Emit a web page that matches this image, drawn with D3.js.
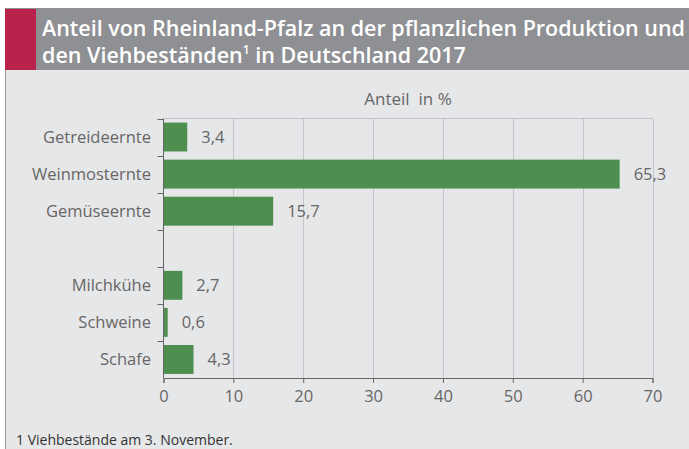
<!DOCTYPE html>
<meta charset="utf-8">
<head>
    <title>Anteil Rheinland-Pfalz</title>
    <script src="https://cdn.jsdelivr.net/npm/d3@7"></script>
</head>

<style>
    body { margin: 0; background: #fff; }
    text { font-family: "Open Sans", "Noto Sans", sans-serif; }
</style>

<svg></svg>

<script>
    // chart data (empty row = gap between crops and livestock)
    var categories = ["Getreideernte", "Weinmosternte", "Gemüseernte", "", "Milchkühe", "Schweine", "Schafe"];
    var values = [3.4, 65.3, 15.7, null, 2.7, 0.6, 4.3];
    var valueLabels = ["3,4", "65,3", "15,7", "", "2,7", "0,6", "4,3"];
    var xTicks = [0, 10, 20, 30, 40, 50, 60, 70];
    var titleLines = ["Anteil von Rheinland-Pfalz an der pflanzlichen Produktion und", "den Viehbeständen"];
    var axisTitle = "Anteil  in %";
    var footnote = "1 Viehbestände am 3. November.";

    var vWidth = 689;
    var vHeight = 449;
    var svg = d3.select('svg').attr('width', vWidth).attr('height', vHeight);

    // panel + header
    svg.append('rect').attr('x', 5).attr('y', 8).attr('width', vWidth - 5).attr('height', vHeight - 8)
        .attr('fill', '#e6e7e9');
    svg.append('line').attr('x1', 5.5).attr('x2', 5.5).attr('y1', 8).attr('y2', vHeight)
        .attr('stroke', '#9a9b9e');
    svg.append('rect').attr('x', 5).attr('y', 8).attr('width', vWidth - 5).attr('height', 62)
        .attr('fill', '#8f9094');
    svg.append('rect').attr('x', 5).attr('y', 9).attr('width', 31).attr('height', 61)
        .attr('fill', '#b8234b');

    svg.append('text').attr('x', 42).attr('y', 36).attr('fill', '#fff')
        .attr('font-size', 21.5).attr('font-weight', 600)
        .attr('textLength', 643).attr('lengthAdjust', 'spacingAndGlyphs')
        .text(titleLines[0]);
    var t2 = svg.append('text').attr('x', 42).attr('y', 63).attr('fill', '#fff')
        .attr('font-size', 21.5).attr('font-weight', 600);
    t2.append('tspan').text(titleLines[1]);
    t2.append('tspan').attr('font-size', 12).attr('dy', -9).text('1');
    t2.append('tspan').attr('dy', 9).text(' in Deutschland 2017');

    // plot area
    var pLeft = 163.5, pRight = 652.5, pTop = 118.5, pBottom = 378;
    var rows = d3.range(categories.length);

    var x = d3.scaleLinear().domain([0, 70]).range([pLeft, pRight]);
    var y = d3.scaleBand().domain(rows).range([pTop, pBottom]).paddingInner(0.22).paddingOuter(0.11);

    // grid lines
    svg.append('g').selectAll('line').data(xTicks.slice(1)).enter().append('line')
        .attr('x1', function (d) { return Math.round(x(d)) + 0.5; })
        .attr('x2', function (d) { return Math.round(x(d)) + 0.5; })
        .attr('y1', pTop).attr('y2', pBottom)
        .attr('stroke', '#c4c5c8').attr('stroke-width', 1);
    svg.append('line').attr('x1', pLeft).attr('x2', pRight).attr('y1', pTop).attr('y2', pTop)
        .attr('stroke', '#c4c5c8');

    var filled = rows.filter(function (i) { return values[i] !== null; });

    // bars
    svg.append('g').selectAll('rect').data(filled).enter().append('rect')
        .attr('x', x(0))
        .attr('y', function (i) { return y(i); })
        .attr('height', y.bandwidth())
        .attr('width', function (i) { return x(values[i]) - x(0); })
        .attr('fill', '#4e8f4f');

    // value labels
    svg.append('g').selectAll('text').data(filled).enter().append('text')
        .attr('x', function (i) { return x(values[i]) + 14; })
        .attr('y', function (i) { return y(i) + y.bandwidth() / 2; })
        .attr('dy', '0.35em')
        .attr('font-size', 16.5).attr('fill', '#666')
        .text(function (i) { return valueLabels[i]; });

    // x axis
    var xAxis = svg.append('g').attr('transform', 'translate(0,' + pBottom + ')')
        .call(d3.axisBottom(x).tickValues(xTicks).tickSize(5).tickPadding(7).tickFormat(d3.format('d')));
    xAxis.select('.domain').attr('stroke', '#666');
    xAxis.selectAll('.tick line').attr('stroke', '#666');
    xAxis.selectAll('text').attr('font-size', 16.5).attr('fill', '#666').attr('font-family', '"Open Sans", sans-serif');

    // y axis (ticks between the rows)
    var yAxisG = svg.append('g').attr('transform', 'translate(' + pLeft + ',0)');
    yAxisG.append('line').attr('x1', 0).attr('x2', 0).attr('y1', pTop).attr('y2', pBottom).attr('stroke', '#666');
    var step = (pBottom - pTop) / categories.length;
    yAxisG.selectAll('line.tk').data(rows).enter().append('line').attr('class', 'tk')
        .attr('x1', -6).attr('x2', 0)
        .attr('y1', function (i) { return Math.round(pTop + i * step) + 0.5; })
        .attr('y2', function (i) { return Math.round(pTop + i * step) + 0.5; })
        .attr('stroke', '#666');

    svg.append('g').selectAll('text').data(rows).enter().append('text')
        .attr('x', 151)
        .attr('y', function (i) { return y(i) + y.bandwidth() / 2; })
        .attr('dy', '0.35em')
        .attr('text-anchor', 'end')
        .attr('font-size', 16.5).attr('fill', '#666')
        .text(function (i) { return categories[i]; });

    // axis title
    svg.append('text').attr('x', (pLeft + pRight) / 2).attr('y', 105).attr('text-anchor', 'middle')
        .attr('font-size', 17).attr('fill', '#666').attr('xml:space', 'preserve').text(axisTitle);

    // footnote
    svg.append('text').attr('x', 16).attr('y', 445).attr('font-size', 14).attr('fill', '#333')
        .text(footnote);
</script>
